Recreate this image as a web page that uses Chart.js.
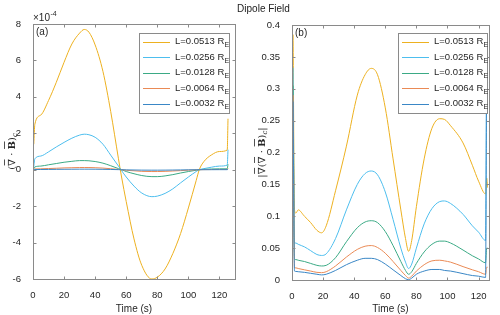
<!DOCTYPE html>
<html lang="en">
<head>
<meta charset="UTF-8">
<title>Dipole Field</title>
<script src="https://cdn.jsdelivr.net/npm/chart.js"></script>
<style>
  body { margin: 0; background: #fff; }
  #wrap { position: relative; width: 500px; height: 315px; font-family: "Liberation Sans", Arial, sans-serif; }
  #title { position: absolute; top: 3px; left: 0; width: 527px; text-align: center; font-size: 10px; color: #222; }
  .panel { position: absolute; top: 0; width: 250px; height: 315px; }
</style>
</head>
<body>
<div id="wrap">
  <div class="panel" style="left:0"><canvas id="chartA" width="250" height="315"></canvas></div>
  <div class="panel" style="left:250px"><canvas id="chartB" width="250" height="315"></canvas></div>
  <div id="title">Dipole Field</div>
</div>

<script>
// series names and colours (MATLAB default order)
const seriesNames = ['L=0.0513', 'L=0.0256', 'L=0.0128', 'L=0.0064', 'L=0.0032'];
const seriesColors = ['#EDB120', '#4DBEEE', '#3BAA85', '#EA8A55', '#3A87C6'];

// panel (a): (div B)_c, values in units of 1e-4
const timeA = [0.5, 1.2, 5, 10, 15, 20, 25, 30, 33, 36, 40, 45, 50, 55, 57, 60, 65, 70, 76.5, 80,
               85, 90, 95, 100, 105, 107, 110, 115, 120, 125, 125.5];
const divA_0513 = [1.4, 2.5, 3.0, 3.8, 4.8, 5.9, 6.9, 7.5, 7.7, 7.55, 6.85, 5.4, 3.2, 0.6, -0.4, -1.75,
                   -3.8, -5.25, -6.0, -5.9, -5.45, -4.6, -3.5, -2.1, -0.6, 0, 0.45, 0.82, 1.0, 1.08, 2.8];
const divA_0256 = [0.15, 0.6, 0.75, 0.98, 1.25, 1.5, 1.73, 1.9, 1.95, 1.92, 1.78, 1.4, 0.8, 0.2, -0.05, -0.4,
                   -0.9, -1.28, -1.48, -1.45, -1.3, -1.05, -0.72, -0.4, -0.1, 0, 0.06, 0.14, 0.2, 0.25, 1.1];
const divA_0128 = [0.05, 0.15, 0.2, 0.27, 0.34, 0.41, 0.46, 0.5, 0.5, 0.49, 0.45, 0.36, 0.22, 0.06, 0, -0.1,
                   -0.22, -0.32, -0.38, -0.38, -0.34, -0.27, -0.18, -0.1, -0.03, 0, 0.02, 0.04, 0.05, 0.05, 0.3];
const divA_0064 = [0, 0.04, 0.05, 0.065, 0.08, 0.1, 0.11, 0.12, 0.12, 0.12, 0.11, 0.09, 0.055, 0.015, 0, -0.03,
                   -0.06, -0.09, -0.1, -0.1, -0.09, -0.07, -0.05, -0.025, -0.008, 0, 0.005, 0.01, 0.012, 0.012, 0.07];
const divA_0032 = [0, 0.01, 0.012, 0.016, 0.02, 0.024, 0.027, 0.03, 0.03, 0.03, 0.028, 0.022, 0.014, 0.004, 0, -0.008,
                   -0.015, -0.022, -0.025, -0.025, -0.022, -0.018, -0.012, -0.006, -0.002, 0, 0.001, 0.002, 0.003, 0.003, 0.02];

// panel (b): |grad (div B)_c|
const timeB = [0.7, 1.6, 2.5, 4, 8, 12, 16, 19, 22, 28, 35, 42, 47, 51, 55, 60, 65, 70, 73, 75, 77, 80,
               85, 90, 95, 98, 102, 110, 116, 120, 124.5, 125.2, 125.8];
const gradB_0513 = [0.385, 0.11, 0.105, 0.11, 0.1, 0.09, 0.078, 0.074, 0.085, 0.14, 0.21, 0.29, 0.322, 0.332, 0.322,
                    0.27, 0.19, 0.11, 0.065, 0.045, 0.062, 0.115, 0.19, 0.238, 0.253, 0.252, 0.242, 0.215, 0.18,
                    0.155, 0.135, 0.16, 0.145];
const gradB_0256 = [0.333, 0.058, 0.058, 0.056, 0.052, 0.046, 0.04, 0.0385, 0.041, 0.065, 0.11, 0.15, 0.167, 0.171,
                    0.165, 0.138, 0.095, 0.05, 0.028, 0.018, 0.025, 0.05, 0.088, 0.112, 0.123, 0.124, 0.12, 0.103,
                    0.085, 0.075, 0.062, 0.313, 0.31];
const gradB_0128 = [0.305, 0.033, 0.032, 0.031, 0.029, 0.026, 0.023, 0.022, 0.023, 0.035, 0.06, 0.082, 0.091, 0.093,
                    0.09, 0.076, 0.054, 0.029, 0.015, 0.009, 0.013, 0.026, 0.044, 0.056, 0.061, 0.061, 0.058, 0.047,
                    0.038, 0.033, 0.027, 0.05, 0.05];
const gradB_0064 = [0.29, 0.019, 0.019, 0.018, 0.016, 0.014, 0.012, 0.0115, 0.013, 0.022, 0.036, 0.048, 0.053, 0.054,
                    0.051, 0.042, 0.029, 0.015, 0.007, 0.003, 0.006, 0.014, 0.024, 0.03, 0.031, 0.03, 0.028, 0.021,
                    0.016, 0.013, 0.009, 0.02, 0.02];
const gradB_0032 = [0.28, 0.014, 0.0135, 0.013, 0.012, 0.0105, 0.009, 0.008, 0.009, 0.015, 0.024, 0.031, 0.034, 0.034,
                    0.032, 0.025, 0.016, 0.007, 0.002, 0.0005, 0.003, 0.009, 0.014, 0.0165, 0.0165, 0.015, 0.014,
                    0.01, 0.007, 0.006, 0.004, 0.3, 0.3];

const xTicks = [0, 20, 40, 60, 80, 100, 120];

const axisColor = '#8a8a8a';
const textColor = '#262626';

function makeDatasets(times, lists) {
    return lists.map((vals, i) => ({
        label: seriesNames[i],
        data: vals.map((v, k) => ({ x: times[k], y: v })),
        borderColor: seriesColors[i],
        borderWidth: 1,
        pointRadius: 0,
        fill: false,
        cubicInterpolationMode: 'monotone',
        order: lists.length - i
    }));
}

// draws one piece-wise label (overlines, bold, subscripts)
function drawMathLabel(ctx, parts, cx, cy) {
    ctx.save();
    ctx.translate(cx, cy);
    ctx.rotate(-Math.PI / 2);
    ctx.fillStyle = textColor;
    ctx.strokeStyle = textColor;
    ctx.textBaseline = 'alphabetic';
    let total = 0;
    parts.forEach(p => {
        ctx.font = (p.bold ? 'bold ' : '') + (p.italic ? 'italic ' : '') + (p.sub ? '7px' : '10px') + ' "DejaVu Serif", serif';
        p.w = ctx.measureText(p.t).width;
        total += p.w;
    });
    let x = -total / 2;
    parts.forEach(p => {
        ctx.font = (p.bold ? 'bold ' : '') + (p.italic ? 'italic ' : '') + (p.sub ? '7px' : '10px') + ' "DejaVu Serif", serif';
        ctx.fillText(p.t, x, p.sub ? 6 : 3.5);
        if (p.over) {
            ctx.lineWidth = 0.8;
            ctx.beginPath();
            ctx.moveTo(x + 0.5, -6.5);
            ctx.lineTo(x + p.w - 0.5, -6.5);
            ctx.stroke();
        }
        x += p.w;
    });
    ctx.restore();
}

const matlabAxes = {
    id: 'matlabAxes',
    afterDraw(chart, args, o) {
        const ctx = chart.ctx, a = chart.chartArea;
        const xs = chart.scales.x, ys = chart.scales.y;
        ctx.save();
        ctx.strokeStyle = axisColor;
        ctx.lineWidth = 1;
        const L = Math.round(a.left) + 0.5, R = Math.round(a.right) + 0.5;
        const T = Math.round(a.top) + 0.5, B = Math.round(a.bottom) + 0.5;
        ctx.strokeRect(L, T, R - L, B - T);
        ctx.beginPath();
        xs.ticks.forEach(t => {
            const x = Math.round(xs.getPixelForValue(t.value)) + 0.5;
            ctx.moveTo(x, B); ctx.lineTo(x, B - 3);
            ctx.moveTo(x, T); ctx.lineTo(x, T + 3);
        });
        ys.ticks.forEach(t => {
            const y = Math.round(ys.getPixelForValue(t.value)) + 0.5;
            ctx.moveTo(L, y); ctx.lineTo(L + 3, y);
            ctx.moveTo(R, y); ctx.lineTo(R - 3, y);
        });
        ctx.stroke();

        // panel tag
        ctx.fillStyle = textColor;
        ctx.font = '10px "Liberation Sans", Arial, sans-serif';
        ctx.textBaseline = 'top';
        ctx.fillText(o.tag, a.left + 3, a.top + 3);

        // exponent note
        if (o.exponent) {
            ctx.textBaseline = 'alphabetic';
            ctx.font = '10px "Liberation Sans", Arial, sans-serif';
            ctx.fillText('\u00d710', a.left, a.top - 3);
            const w = ctx.measureText('\u00d710').width;
            ctx.font = '7px "Liberation Sans", Arial, sans-serif';
            ctx.fillText(o.exponent, a.left + w + 0.5, a.top - 8);
        }

        // legend box
        const lg = o.legend;
        ctx.fillStyle = '#fff';
        ctx.fillRect(lg.x, lg.y, lg.w, lg.h);
        ctx.strokeStyle = axisColor;
        ctx.strokeRect(lg.x + 0.5, lg.y + 0.5, lg.w, lg.h);
        seriesNames.forEach((name, i) => {
            const y = lg.y + 8.5 + i * 15.5;
            ctx.strokeStyle = seriesColors[i];
            ctx.lineWidth = 1;
            ctx.beginPath();
            ctx.moveTo(lg.x + 4, Math.round(y) + 0.5);
            ctx.lineTo(lg.x + 31, Math.round(y) + 0.5);
            ctx.stroke();
            ctx.fillStyle = textColor;
            ctx.textBaseline = 'middle';
            ctx.font = '9.5px "Liberation Sans", Arial, sans-serif';
            const txt = name + ' R';
            ctx.fillText(txt, lg.x + 36, y);
            const tw = ctx.measureText(txt).width;
            ctx.font = '7px "Liberation Sans", Arial, sans-serif';
            ctx.fillText('E', lg.x + 36 + tw, y + 4);
        });

        drawMathLabel(ctx, o.yLabel, 11, (a.top + a.bottom) / 2);
        ctx.restore();
    }
};

function makeChart(id, times, lists, opt) {
    return new Chart(document.getElementById(id), {
        type: 'line',
        data: { datasets: makeDatasets(times, lists) },
        options: {
            responsive: false,
            animation: false,
            layout: { padding: { top: opt.top, right: opt.right, left: 0, bottom: 0 } },
            plugins: {
                legend: { display: false },
                tooltip: { enabled: false },
                matlabAxes: opt.deco
            },
            scales: {
                x: {
                    type: 'linear',
                    min: 0,
                    max: opt.xMax,
                    afterBuildTicks: s => { s.ticks = xTicks.map(v => ({ value: v })); },
                    grid: { display: false },
                    border: { display: false },
                    ticks: { color: textColor, font: { size: 9.5, family: '"Liberation Sans", Arial, sans-serif' }, padding: 3, maxRotation: 0 },
                    title: { display: true, text: 'Time (s)', color: textColor, padding: { top: 0, bottom: 0 },
                             font: { size: 10, family: '"Liberation Sans", Arial, sans-serif' } },
                    afterFit: s => { s.height = opt.xHeight; }
                },
                y: {
                    min: opt.yMin,
                    max: opt.yMax,
                    ticks: { stepSize: opt.yStep, color: textColor, padding: 4,
                             font: { size: 9.5, family: '"Liberation Sans", Arial, sans-serif' },
                             callback: v => String(+v.toFixed(2)) },
                    grid: { display: false },
                    border: { display: false },
                    afterFit: s => { s.width = opt.yWidth; }
                }
            }
        },
        plugins: [matlabAxes]
    });
}

makeChart('chartA', timeA, [divA_0513, divA_0256, divA_0128, divA_0064, divA_0032], {
    top: 24, right: 15, xHeight: 36, yWidth: 33, xMax: 130,
    yMin: -6, yMax: 8, yStep: 2,
    deco: {
        tag: '(a)', exponent: '-4',
        legend: { x: 139, y: 33, w: 90, h: 80 },
        yLabel: [{ t: '(' }, { t: '\u2207', over: true }, { t: ' \u00b7 ' }, { t: 'B', bold: true, over: true },
                 { t: ')' }, { t: 'c', sub: true, italic: true }]
    }
});

makeChart('chartB', timeB, [gradB_0513, gradB_0256, gradB_0128, gradB_0064, gradB_0032], {
    top: 25, right: 11, xHeight: 35, yWidth: 42, xMax: 126.7,
    yMin: 0, yMax: 0.4, yStep: 0.05,
    deco: {
        tag: '(b)',
        legend: { x: 148, y: 33, w: 89, h: 80 },
        yLabel: [{ t: '|' }, { t: '\u2207', over: true }, { t: '(' }, { t: '\u2207', over: true }, { t: ' \u00b7 ' },
                 { t: 'B', bold: true, over: true }, { t: ')' }, { t: 'c', sub: true, italic: true }, { t: '|' }]
    }
});
</script>
</body>
</html>
